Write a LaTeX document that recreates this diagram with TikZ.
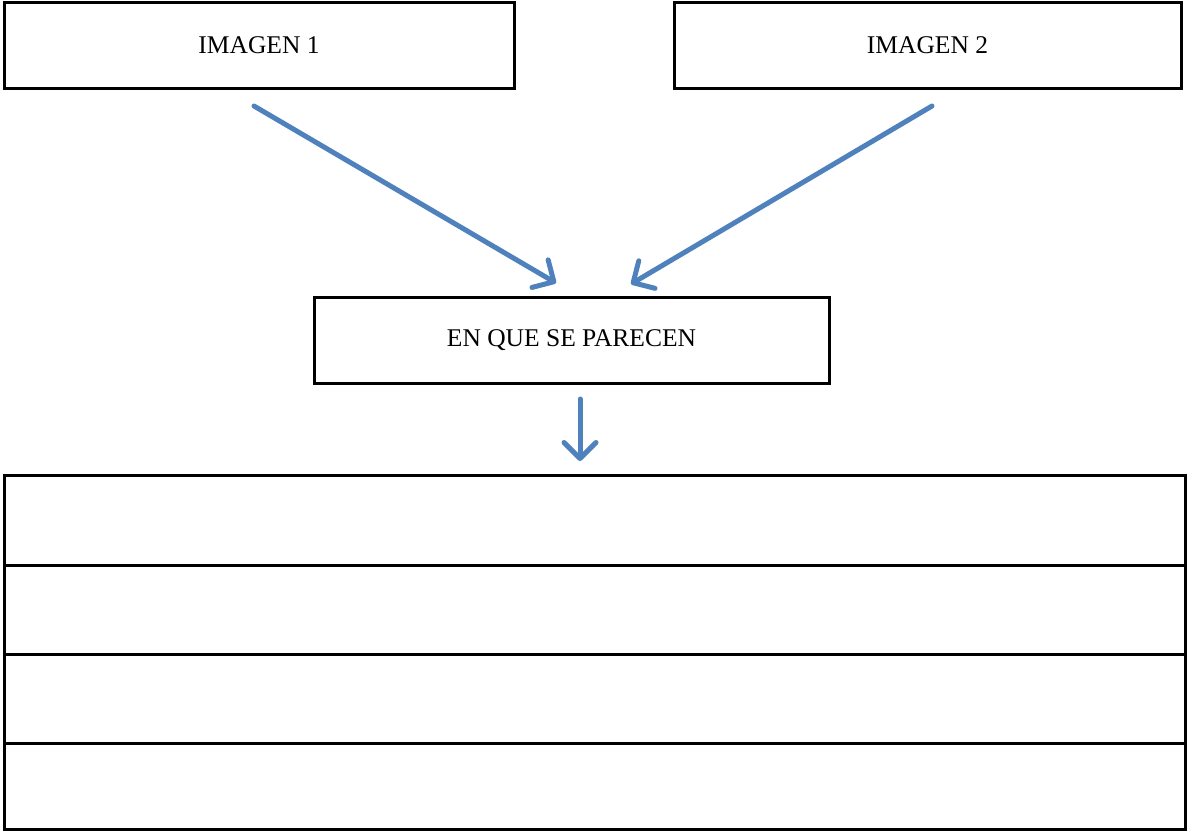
\documentclass[tikz,border=0pt]{standalone}
\usepackage{fontspec}
\setmainfont{Liberation Serif}
\usetikzlibrary{arrows.meta}
\definecolor{arrowblue}{HTML}{4F81BD}
\begin{document}
\begin{tikzpicture}[x=1pt,y=-1pt,
  box/.style={draw=black,line width=3pt,rectangle,inner sep=0pt,outer sep=0pt,
    font=\fontsize{25.5}{30}\selectfont},
  rowbox/.style={box,minimum width=1181pt},
  bluearrow/.style={draw=arrowblue,line width=5pt,line cap=round,
    -{Straight Barb[length=16pt,width=32pt,line cap=round,line join=round]}}]
\useasboundingbox (0,0) rectangle (1189,831);
\node[box,minimum width=510pt,minimum height=86pt] (img1) at (259,45) {IMAGEN 1};
\node[box,minimum width=507pt,minimum height=86pt] (img2) at (927.5,45) {IMAGEN 2};
\node[box,minimum width=515pt,minimum height=86pt] (mid) at (571.5,340) {EN QUE SE PARECEN};
\node[rowbox,minimum height=90pt] (r1) at (594.5,520) {};
\node[rowbox,minimum height=89pt] (r2) at (594.5,609.5) {};
\node[rowbox,minimum height=89pt] (r3) at (594.5,698.5) {};
\node[rowbox,minimum height=86pt] (r4) at (594.5,786) {};
\coordinate (a1s) at (254,106);
\coordinate (a1e) at (556,283);
\coordinate (a2s) at (932,106);
\coordinate (a2e) at (631,284);
\coordinate (a3s) at (580,399);
\coordinate (a3e) at (580,461);
\draw[bluearrow] (a1s) -- (a1e);
\draw[bluearrow] (a2s) -- (a2e);
\draw[bluearrow] (a3s) -- (a3e);
\end{tikzpicture}
\end{document}
